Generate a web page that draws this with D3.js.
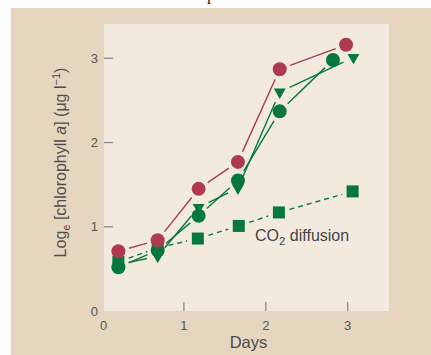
<!DOCTYPE html>
<html><head><meta charset="utf-8">
<script src="https://cdn.jsdelivr.net/npm/d3@7"></script>
<style>html,body{margin:0;padding:0;background:#fff;}svg{display:block;}</style>
</head><body>
<svg id="c" width="431" height="355"></svg>
<script>
// Data (days, log_e chlorophyll a)
const redDays = [0.2, 0.68, 1.18, 1.66, 2.17, 2.98];
const redVals = [0.71, 0.84, 1.45, 1.77, 2.87, 3.16];
const circDays = [0.2, 0.68, 1.18, 1.66, 2.17, 2.82];
const circVals = [0.52, 0.72, 1.13, 1.55, 2.37, 2.98];
const triDays = [0.2, 0.68, 1.18, 1.66, 2.17, 3.07];
const triVals = [0.55, 0.65, 1.23, 1.46, 2.6, 3.01];
const sqDays = [0.2, 0.68, 1.17, 1.67, 2.16, 3.06];
const sqVals = [0.585, 0.75, 0.86, 1.01, 1.17, 1.42];
const xTicks = [0, 1, 2, 3];
const yTicks = [0, 1, 2, 3];

const RED = "#ad3a50", GREEN = "#06773d";
const svg = d3.select("#c");
// outer panel
svg.append("rect").attr("x", 11).attr("y", 8).attr("width", 420).attr("height", 347).attr("fill", "#e6d6c0");
// cut-off title glyph (title lies above the visible frame)
svg.append("text").attr("x", 207).attr("y", 0).attr("font-family", "Liberation Serif").attr("font-size", 16).attr("fill", "#222").text("p");

const x = d3.scaleLinear().domain([0, 3]).range([102, 347.7]);
const y = d3.scaleLinear().domain([0, 3]).range([311, 58.3]);

// inner panel
svg.append("rect").attr("x", 104).attr("y", 24).attr("width", 285).attr("height", y(0) - 24).attr("fill", "#f2eadf");

// ticks
svg.selectAll(".yt").data(yTicks.filter(d => d > 0)).enter().append("line")
  .attr("x1", 104).attr("x2", 113).attr("y1", d => y(d)).attr("y2", d => y(d))
  .attr("stroke", "#8a8a8a").attr("stroke-width", 1.3);
svg.selectAll(".xt").data(xTicks.filter(d => d > 0)).enter().append("line")
  .attr("x1", d => x(d)).attr("x2", d => x(d)).attr("y1", y(0)).attr("y2", y(0) - 9)
  .attr("stroke", "#8a8a8a").attr("stroke-width", 1.3);
svg.selectAll(".yl").data(yTicks).enter().append("text")
  .attr("x", 98).attr("y", d => y(d)).attr("dy", "0.35em").attr("text-anchor", "end")
  .attr("font-family", "Liberation Sans, Arial").attr("font-size", 13).attr("fill", "#555").text(d => d);
svg.selectAll(".xl").data(xTicks).enter().append("text")
  .attr("x", d => x(d) + (d === 0 ? 1.5 : 0)).attr("y", 329.5).attr("text-anchor", "middle")
  .attr("font-family", "Liberation Sans, Arial").attr("font-size", 13).attr("fill", "#555").text(d => d);

// axis titles
svg.append("text").attr("x", 248.5).attr("y", 348).attr("text-anchor", "middle")
  .attr("font-family", "Liberation Sans, Arial").attr("font-size", 16.5).attr("fill", "#4a4a4a").text("Days");
const yt = svg.append("text").attr("transform", "translate(65.5,162.5) rotate(-90)").attr("text-anchor", "middle")
  .attr("font-family", "Liberation Sans, Arial").attr("font-size", 16).attr("fill", "#4e4e4e");
yt.append("tspan").text("Log");
yt.append("tspan").attr("font-size", 11).attr("dy", 4).text("e");
yt.append("tspan").attr("dy", -4).text(" [chlorophyll ");
yt.append("tspan").attr("font-style", "italic").text("a");
yt.append("tspan").text("] (μg l");
yt.append("tspan").attr("font-size", 11).attr("dy", -6).text("−1");
yt.append("tspan").attr("dy", 6).text(")");

// label
const lab = svg.append("text").attr("x", 255).attr("y", 240.5)
  .attr("font-family", "Liberation Sans, Arial").attr("font-size", 16).attr("fill", "#444");
lab.append("tspan").text("CO");
lab.append("tspan").attr("font-size", 11.5).attr("dy", 4).text("2");
lab.append("tspan").attr("dy", -4).text(" diffusion");

// lines with gaps around markers
function gapLines(days, vals, color, dash) {
  const pts = days.map((d, i) => [x(d), y(vals[i])]);
  const segs = [];
  const g = 11;
  for (let i = 0; i < pts.length - 1; i++) {
    const [x1, y1] = pts[i], [x2, y2] = pts[i + 1];
    const L = Math.hypot(x2 - x1, y2 - y1);
    if (L <= 2 * g) continue;
    const ux = (x2 - x1) / L, uy = (y2 - y1) / L;
    segs.push([x1 + ux * g, y1 + uy * g, x2 - ux * g, y2 - uy * g]);
  }
  svg.append("g").selectAll("line").data(segs).enter().append("line")
    .attr("x1", s => s[0]).attr("y1", s => s[1]).attr("x2", s => s[2]).attr("y2", s => s[3])
    .attr("stroke", color).attr("stroke-width", 1.4).attr("stroke-dasharray", dash || null);
}
gapLines(redDays, redVals, RED);
gapLines(circDays, circVals, GREEN);
gapLines(triDays, triVals, GREEN);
gapLines(sqDays, sqVals, GREEN, "5,4");

// markers
const tri = d3.symbol().type(d3.symbolTriangle).size(62);
svg.append("g").selectAll("path").data(triDays).enter().append("path")
  .attr("d", tri).attr("transform", (d, i) => `translate(${x(d)},${y(triVals[i])}) rotate(180)`).attr("fill", GREEN);
svg.append("g").selectAll("circle").data(circDays).enter().append("circle")
  .attr("cx", d => x(d)).attr("cy", (d, i) => y(circVals[i])).attr("r", 7).attr("fill", GREEN);
svg.append("g").selectAll("rect").data(sqDays).enter().append("rect")
  .attr("x", d => x(d) - 6).attr("y", (d, i) => y(sqVals[i]) - 6).attr("width", 12).attr("height", 12).attr("fill", GREEN);
svg.append("g").selectAll("circle").data(redDays).enter().append("circle")
  .attr("cx", d => x(d)).attr("cy", (d, i) => y(redVals[i])).attr("r", 7).attr("fill", RED);
</script>
</body></html>
